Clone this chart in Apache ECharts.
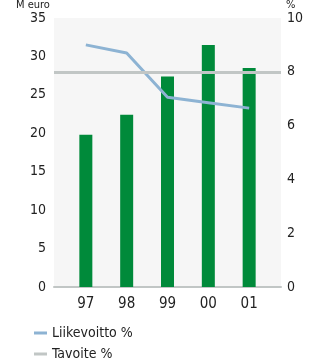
<!DOCTYPE html>
<html>
<head>
<meta charset="utf-8">
<script src="https://cdn.jsdelivr.net/npm/echarts@6/dist/echarts.min.js"></script>
<style>
  html, body { margin: 0; padding: 0; background: #fff; }
  #chart { width: 311px; height: 361px; }
</style>
</head>
<body>
<div id="chart"></div>
<script>
// vuodet
const years = ['97', '98', '99', '00', '01']
// liikevaihto, M euro
const liikevaihto = [19.8, 22.4, 27.4, 31.5, 28.5]
// liikevoitto %
const liikevoitto = [9.0, 8.7, 7.05, 6.85, 6.65]
// tavoite %
const tavoite = 8

const font = "'DejaVu Sans Condensed', 'Liberation Sans Narrow', 'Roboto Condensed', Roboto, sans-serif"
const green = '#008a3a'
const blue = '#8db3d3'
const grey = '#c1c6c5'

// selite, yksi rivi per sarja
function legendRow(name, top) {
  return {
    orient: 'vertical',
    left: 34, top: top, padding: 0,
    itemWidth: 13, itemHeight: 3,
    textStyle: { fontFamily: font, fontSize: 14, color: '#222' },
    data: [{ name: name, icon: 'rect' }]
  }
}

const myChart = echarts.init(document.getElementById('chart'))
myChart.setOption({
  animation: false,
  textStyle: { fontFamily: font },
  title: [
    { text: 'M euro', left: 16, top: 0, padding: 0,
      textStyle: { fontFamily: font, fontSize: 11, fontWeight: 'normal', color: '#222' } },
    { text: '%', left: 286, top: 0, padding: 0,
      textStyle: { fontFamily: font, fontSize: 11, fontWeight: 'normal', color: '#222' } }
  ],
  grid: {
    left: 54, right: 30, top: 18, bottom: 74,
    show: true, backgroundColor: '#f6f6f6', borderWidth: 0
  },
  legend: [
    legendRow('Liikevoitto %', 326),
    legendRow('Tavoite %', 347)
  ],
  xAxis: {
    type: 'value',
    min: -0.78, max: 4.78,
    splitLine: { show: false },
    axisTick: { show: false },
    axisLine: { show: true, onZero: true, lineStyle: { color: grey, width: 2 } },
    axisLabel: {
      customValues: [0, 1, 2, 3, 4],
      formatter: v => years[Math.round(v)],
      fontSize: 15, color: '#222', margin: 10
    }
  },
  yAxis: [
    {
      type: 'value', min: 0, max: 35, interval: 5,
      splitLine: { show: false },
      axisLine: { show: false }, axisTick: { show: false },
      axisLabel: { fontSize: 14, color: '#222', margin: 8 }
    },
    {
      type: 'value', min: 0, max: 10, interval: 2,
      splitLine: { show: false },
      axisLine: { show: false }, axisTick: { show: false },
      axisLabel: { fontSize: 14, color: '#222', margin: 6 }
    }
  ],
  series: [
    {
      name: 'Liikevaihto',
      type: 'bar',
      barWidth: 13,
      itemStyle: { color: green },
      data: liikevaihto.map((v, i) => [i, v]),
      z: 2
    },
    {
      name: 'Tavoite %',
      type: 'line',
      yAxisIndex: 1,
      color: grey,
      data: [],
      markLine: {
        silent: true,
        symbol: 'none',
        label: { show: false },
        lineStyle: { color: grey, width: 3, type: 'solid' },
        data: [{ yAxis: tavoite }]
      },
      z: 3
    },
    {
      name: 'Liikevoitto %',
      type: 'line',
      yAxisIndex: 1,
      color: blue,
      symbol: 'none',
      lineStyle: { color: blue, width: 3 },
      data: liikevoitto.map((v, i) => [i, v]),
      z: 4
    }
  ]
})
</script>
</body>
</html>
